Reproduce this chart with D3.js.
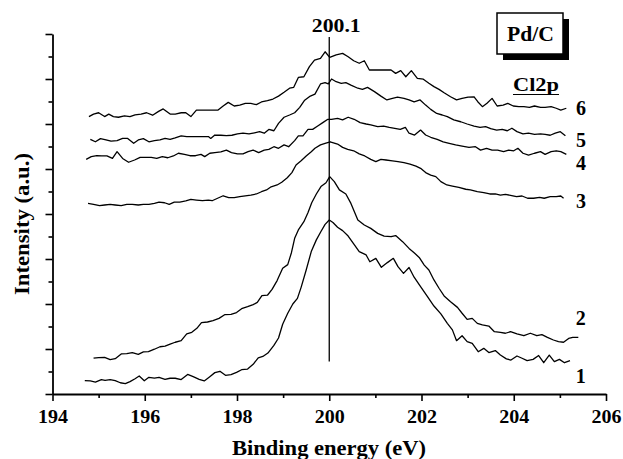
<!DOCTYPE html>
<html><head><meta charset="utf-8">
<script src="https://cdn.jsdelivr.net/npm/d3@7"></script>
<style>
html,body{margin:0;padding:0;background:#fff;}
svg{display:block;}
text{font-family:"Liberation Serif","Times New Roman",serif;font-weight:bold;fill:#000;}
</style></head>
<body>
<svg id="chart" width="623" height="459"></svg>
<script>
// ---- data (binding energy eV, intensity a.u.) ----
const xTicks = [194, 196, 198, 200, 202, 204, 206];
const xMinorTicks = [195, 197, 199, 201, 203, 205];
const yTicks = [0, 2, 4, 6, 8, 10, 12, 14, 16];
const yMinorTicks = [1, 3, 5, 7, 9, 11, 13, 15];
const curveNames = ["1", "2", "3", "4", "5", "6"];
const peakPosition = 200.0;
const peakLabel = "200.1";
const sampleLabel = "Pd/C";
const regionLabel = "Cl2p";

const series1 = [[194.70,0.59],[194.82,0.58],[194.93,0.53],[195.06,0.64],[195.14,0.61],[195.25,0.64],[195.36,0.59],[195.47,0.50],[195.58,0.46],[195.68,0.55],[195.79,0.68],[195.88,0.80],[195.99,0.59],[196.09,0.74],[196.21,0.71],[196.31,0.74],[196.44,0.65],[196.55,0.70],[196.66,0.70],[196.79,0.64],[196.93,0.87],[197.05,0.77],[197.18,0.65],[197.29,0.58],[197.41,0.77],[197.52,0.95],[197.63,1.01],[197.75,0.83],[197.87,0.86],[197.99,0.96],[198.10,1.08],[198.23,1.11],[198.35,1.32],[198.46,1.61],[198.56,1.67],[198.67,1.82],[198.80,2.16],[198.90,2.49],[198.99,3.10],[199.10,3.59],[199.21,4.00],[199.31,4.25],[199.39,4.74],[199.50,5.51],[199.61,6.33],[199.72,6.85],[199.82,7.22],[199.91,7.54],[200.00,7.73],[200.08,7.62],[200.18,7.41],[200.29,7.26],[200.41,7.02],[200.53,6.67],[200.65,6.33],[200.80,6.18],[200.88,5.88],[201.01,6.03],[201.13,5.63],[201.26,5.84],[201.39,6.03],[201.49,5.66],[201.61,5.36],[201.73,5.62],[201.84,5.19],[201.98,4.77],[202.13,4.33],[202.27,3.91],[202.42,3.56],[202.56,3.14],[202.67,2.85],[202.76,2.37],[202.88,2.59],[202.99,2.33],[203.10,2.25],[203.23,1.88],[203.35,2.03],[203.46,1.84],[203.60,1.93],[203.71,1.73],[203.84,1.56],[203.94,1.51],[204.07,1.69],[204.18,1.59],[204.29,1.48],[204.42,1.54],[204.54,1.71],[204.65,1.39],[204.77,1.73],[204.88,1.44],[204.99,1.54],[205.10,1.39],[205.22,1.48]];

const series2 = [[194.89,1.59],[195.00,1.62],[195.13,1.63],[195.25,1.53],[195.36,1.57],[195.49,1.78],[195.61,1.79],[195.73,1.84],[195.86,1.76],[195.97,1.87],[196.08,1.88],[196.21,1.99],[196.33,2.10],[196.44,2.13],[196.55,2.22],[196.66,2.30],[196.79,2.37],[196.91,2.67],[197.02,2.74],[197.13,2.92],[197.23,3.17],[197.36,3.20],[197.48,3.26],[197.61,3.36],[197.74,3.53],[197.87,3.54],[197.99,3.62],[198.10,3.79],[198.23,3.88],[198.35,3.97],[198.44,4.07],[198.54,4.37],[198.66,4.39],[198.76,4.65],[198.87,5.04],[198.99,5.59],[199.10,5.75],[199.18,6.28],[199.25,6.92],[199.33,7.29],[199.45,7.66],[199.54,8.07],[199.62,8.50],[199.72,8.89],[199.82,9.22],[199.93,9.39],[200.01,9.66],[200.11,9.44],[200.22,9.07],[200.36,8.89],[200.47,8.47],[200.62,7.73],[200.76,7.51],[200.90,7.36],[201.05,7.14],[201.19,7.02],[201.34,6.99],[201.44,7.04],[201.59,6.77],[201.73,6.47],[201.84,6.28],[201.95,6.07],[202.06,5.73],[202.16,5.51],[202.27,5.07],[202.38,4.70],[202.49,4.36],[202.63,4.10],[202.78,3.85],[202.88,3.59],[202.99,3.32],[203.10,3.36],[203.21,3.14],[203.32,3.07],[203.46,3.02],[203.58,2.77],[203.71,2.74],[203.82,2.70],[203.93,2.77],[204.07,2.67],[204.22,2.59],[204.36,2.70],[204.50,2.59],[204.61,2.64],[204.73,2.52],[204.86,2.40],[204.97,2.33],[205.08,2.30],[205.19,2.47],[205.28,2.52],[205.40,2.52]];

const series3 = [[194.77,8.47],[194.89,8.43],[195.02,8.37],[195.13,8.40],[195.25,8.43],[195.36,8.40],[195.49,8.37],[195.61,8.43],[195.73,8.43],[195.86,8.40],[195.97,8.43],[196.09,8.43],[196.21,8.47],[196.31,8.53],[196.43,8.50],[196.53,8.43],[196.64,8.53],[196.76,8.53],[196.89,8.58],[197.00,8.65],[197.12,8.62],[197.25,8.59],[197.38,8.62],[197.46,8.59],[197.58,8.70],[197.70,8.81],[197.82,8.73],[197.94,8.73],[198.06,8.77],[198.18,8.81],[198.30,8.84],[198.42,8.89],[198.53,8.99],[198.64,9.07],[198.74,9.21],[198.87,9.29],[198.97,9.41],[199.09,9.61],[199.19,9.84],[199.28,10.18],[199.39,10.37],[199.50,10.58],[199.61,10.77],[199.69,10.92],[199.81,11.07],[199.91,11.14],[200.02,11.21],[200.18,11.11],[200.29,10.96],[200.40,10.87],[200.53,10.81],[200.65,10.67],[200.77,10.58],[200.90,10.43],[201.01,10.33],[201.12,10.43],[201.23,10.40],[201.37,10.36],[201.49,10.33],[201.62,10.28],[201.75,10.22],[201.88,10.13],[201.98,10.03],[202.09,9.84],[202.20,9.73],[202.31,9.66],[202.42,9.44],[202.55,9.29],[202.67,9.24],[202.81,9.18],[202.96,9.10],[203.06,9.07],[203.21,8.99],[203.35,8.95],[203.48,8.89],[203.60,8.89],[203.71,8.84],[203.82,8.87],[203.93,8.83],[204.06,8.77],[204.18,8.80],[204.30,8.70],[204.43,8.70],[204.56,8.74],[204.66,8.70],[204.79,8.77],[204.92,8.77],[205.02,8.80],[205.08,8.70]];

const series4 = [[194.73,10.43],[194.84,10.55],[194.96,10.59],[195.07,10.58],[195.18,10.58],[195.30,10.47],[195.40,10.77],[195.52,10.47],[195.65,10.30],[195.78,10.40],[195.90,10.52],[196.02,10.52],[196.14,10.52],[196.26,10.47],[196.38,10.55],[196.50,10.50],[196.62,10.58],[196.73,10.70],[196.86,10.65],[196.98,10.59],[197.10,10.59],[197.22,10.65],[197.30,10.55],[197.41,10.70],[197.52,10.73],[197.65,10.76],[197.77,10.84],[197.88,10.73],[198.01,10.67],[198.13,10.67],[198.24,10.77],[198.35,10.84],[198.47,10.73],[198.59,10.84],[198.69,10.87],[198.80,10.99],[198.90,10.92],[199.02,11.07],[199.12,10.99],[199.25,11.26],[199.33,11.47],[199.43,11.47],[199.54,11.76],[199.64,11.76],[199.75,11.91],[199.86,12.06],[199.97,12.21],[200.05,12.21],[200.18,12.25],[200.29,12.18],[200.41,12.30],[200.54,12.21],[200.67,12.06],[200.80,12.00],[200.90,11.96],[201.05,11.88],[201.18,11.91],[201.30,11.85],[201.42,11.81],[201.54,11.76],[201.65,11.85],[201.73,11.59],[201.85,11.51],[201.98,11.73],[202.09,11.51],[202.20,11.41],[202.34,11.32],[202.47,11.21],[202.60,11.14],[202.74,11.07],[202.88,11.02],[203.03,10.96],[203.17,10.99],[203.28,10.84],[203.41,10.92],[203.53,10.84],[203.65,10.84],[203.78,10.77],[203.89,10.84],[204.00,10.81],[204.09,10.92],[204.20,10.70],[204.32,10.62],[204.45,10.70],[204.58,10.77],[204.68,10.65],[204.81,10.77],[204.92,10.81],[205.02,10.77],[205.14,10.65]];

const series5 = [[194.82,11.32],[194.93,11.21],[195.04,11.35],[195.16,11.29],[195.27,11.24],[195.40,11.26],[195.52,11.36],[195.63,11.36],[195.76,11.14],[195.86,11.29],[195.97,11.35],[196.09,11.21],[196.21,11.26],[196.33,11.29],[196.44,11.36],[196.55,11.32],[196.66,11.38],[196.79,11.47],[196.91,11.44],[197.02,11.44],[197.12,11.44],[197.25,11.44],[197.38,11.44],[197.43,11.36],[197.52,11.51],[197.65,11.50],[197.77,11.48],[197.89,11.50],[198.01,11.56],[198.13,11.59],[198.26,11.56],[198.38,11.61],[198.49,11.66],[198.59,11.59],[198.69,11.76],[198.80,11.70],[198.90,12.03],[199.02,12.30],[199.14,12.40],[199.25,12.50],[199.36,12.74],[199.46,13.04],[199.59,13.24],[199.69,13.33],[199.81,13.78],[199.91,13.84],[199.98,13.78],[200.05,14.00],[200.15,13.88],[200.26,13.81],[200.36,13.84],[200.47,13.73],[200.62,13.59],[200.72,13.54],[200.83,13.63],[200.98,13.44],[201.12,13.24],[201.25,13.07],[201.37,13.14],[201.48,13.19],[201.62,13.14],[201.73,13.07],[201.84,12.98],[201.97,13.07],[202.09,12.84],[202.20,12.65],[202.33,12.47],[202.45,12.40],[202.56,12.33],[202.70,12.18],[202.85,12.10],[202.99,12.00],[203.14,11.91],[203.27,11.85],[203.39,11.88],[203.50,11.79],[203.63,11.73],[203.75,11.76],[203.86,11.70],[203.96,11.81],[204.07,11.66],[204.20,11.56],[204.32,11.59],[204.45,11.54],[204.58,11.56],[204.68,11.54],[204.79,11.50],[204.90,11.59],[205.01,11.66],[205.12,11.48]];

const series6 = [[194.79,12.33],[194.89,12.44],[195.00,12.50],[195.13,12.33],[195.22,12.44],[195.32,12.33],[195.43,12.30],[195.56,12.36],[195.68,12.33],[195.79,12.41],[195.92,12.44],[196.04,12.50],[196.17,12.39],[196.30,12.56],[196.40,12.67],[196.55,12.44],[196.66,12.44],[196.79,12.50],[196.89,12.50],[197.00,12.33],[197.12,12.62],[197.23,12.62],[197.36,12.62],[197.48,12.62],[197.59,12.62],[197.70,12.80],[197.81,12.96],[197.94,12.80],[198.06,12.84],[198.18,12.92],[198.30,12.92],[198.42,12.86],[198.53,12.98],[198.66,13.04],[198.78,13.11],[198.90,13.24],[199.02,13.41],[199.14,13.59],[199.23,13.63],[199.33,14.07],[199.45,14.10],[199.57,14.55],[199.68,14.84],[199.81,14.92],[199.91,15.21],[200.01,14.96],[200.15,15.07],[200.29,15.14],[200.41,14.99],[200.53,14.81],[200.65,14.70],[200.76,14.81],[200.87,14.40],[200.98,14.40],[201.12,14.40],[201.23,14.40],[201.34,14.40],[201.44,14.25],[201.55,14.37],[201.66,14.10],[201.78,14.37],[201.91,14.03],[202.04,13.99],[202.16,13.81],[202.27,13.66],[202.38,13.54],[202.49,13.39],[202.63,13.21],[202.76,13.07],[202.88,13.14],[203.01,13.19],[203.14,13.21],[203.22,12.99],[203.32,12.77],[203.42,12.92],[203.53,13.14],[203.64,12.80],[203.77,12.84],[203.87,12.92],[203.99,12.80],[204.11,12.77],[204.22,12.77],[204.34,12.74],[204.45,12.80],[204.58,12.74],[204.68,12.74],[204.81,12.77],[204.92,12.70],[205.02,12.62],[205.14,12.70]];

const allSeries = [series1, series2, series3, series4, series5, series6];

// ---- layout ----
const svg = d3.select("#chart");
const x = d3.scaleLinear().domain([194, 206]).range([52.5, 606]);
const y = d3.scaleLinear().domain([0, 16]).range([394, 34]);

// label anchors in data units (layout, not data)
const labelAnchor = [[205.45,0.49],[205.45,3.07],[205.46,8.27],[205.46,9.96],[205.46,10.98],[205.46,12.40]];

// axes
const gx = svg.append("g").attr("transform", "translate(0,394)")
  .call(d3.axisBottom(x).tickValues(xTicks).tickSize(7).tickSizeOuter(0).tickFormat(d3.format("d")));
svg.append("g").attr("transform", "translate(0,394)")
  .call(d3.axisBottom(x).tickValues(xMinorTicks).tickSize(4).tickFormat(""))
  .select(".domain").remove();
const gy = svg.append("g").attr("transform", "translate(52.5,0)")
  .call(d3.axisLeft(y).tickValues(yTicks).tickSize(7).tickSizeOuter(0).tickFormat(""));
svg.append("g").attr("transform", "translate(52.5,0)")
  .call(d3.axisLeft(y).tickValues(yMinorTicks).tickSize(4).tickFormat(""))
  .select(".domain").remove();

svg.selectAll(".domain").attr("stroke", "#000").attr("stroke-width", 1.8);
svg.selectAll(".tick line").attr("stroke", "#000").attr("stroke-width", 1.6);
gx.selectAll(".tick text")
  .attr("font-family", "Liberation Serif, serif").attr("font-weight", "bold")
  .attr("font-size", 19).attr("fill", "#000")
  .attr("textLength", 30).attr("lengthAdjust", "spacingAndGlyphs")
  .attr("y", 29).attr("dy", null);

// curves
const line = d3.line().x(d => x(d[0])).y(d => y(d[1]));
svg.append("g").selectAll("path").data(allSeries).join("path")
  .attr("d", line).attr("fill", "none").attr("stroke", "#000")
  .attr("stroke-width", 1.3).attr("stroke-linejoin", "round");

// vertical peak marker
svg.append("line")
  .attr("x1", x(peakPosition)).attr("x2", x(peakPosition))
  .attr("y1", y(15.87)).attr("y2", y(1.45))
  .attr("stroke", "#000").attr("stroke-width", 1.3);
svg.append("text").attr("x", x(peakPosition) + 7).attr("y", 32)
  .attr("text-anchor", "middle").attr("font-size", 18)
  .attr("textLength", 49).attr("lengthAdjust", "spacingAndGlyphs")
  .text(peakLabel);

// curve number labels
svg.append("g").selectAll("text").data(curveNames).join("text")
  .attr("x", (d, i) => x(labelAnchor[i][0]))
  .attr("y", (d, i) => y(labelAnchor[i][1]))
  .attr("text-anchor", "middle").attr("font-size", 20)
  .text(d => d);

// Pd/C box with shadow
svg.append("rect").attr("x", 503).attr("y", 19).attr("width", 66).attr("height", 41).attr("fill", "#000");
svg.append("rect").attr("x", 497).attr("y", 13).attr("width", 66).attr("height", 41)
  .attr("fill", "#fff").attr("stroke", "#000").attr("stroke-width", 1.5);
svg.append("text").attr("x", 530.5).attr("y", 40.5).attr("text-anchor", "middle")
  .attr("font-size", 21).attr("textLength", 47).attr("lengthAdjust", "spacingAndGlyphs")
  .text(sampleLabel);

// Cl2p underlined
svg.append("text").attr("x", 536).attr("y", 91).attr("text-anchor", "middle")
  .attr("font-size", 18).attr("textLength", 46).attr("lengthAdjust", "spacingAndGlyphs")
  .text(regionLabel);
svg.append("line").attr("x1", 513).attr("x2", 559).attr("y1", 94.5).attr("y2", 94.5)
  .attr("stroke", "#000").attr("stroke-width", 1.2);

// axis titles
svg.append("text").attr("x", 329).attr("y", 455).attr("text-anchor", "middle")
  .attr("font-size", 20).attr("textLength", 194).attr("lengthAdjust", "spacingAndGlyphs")
  .text("Binding energy (eV)");
svg.append("text").attr("transform", "translate(28.5,224) rotate(-90)")
  .attr("text-anchor", "middle").attr("font-size", 20)
  .attr("textLength", 142).attr("lengthAdjust", "spacingAndGlyphs")
  .text("Intensity (a.u.)");
</script>
</body></html>
